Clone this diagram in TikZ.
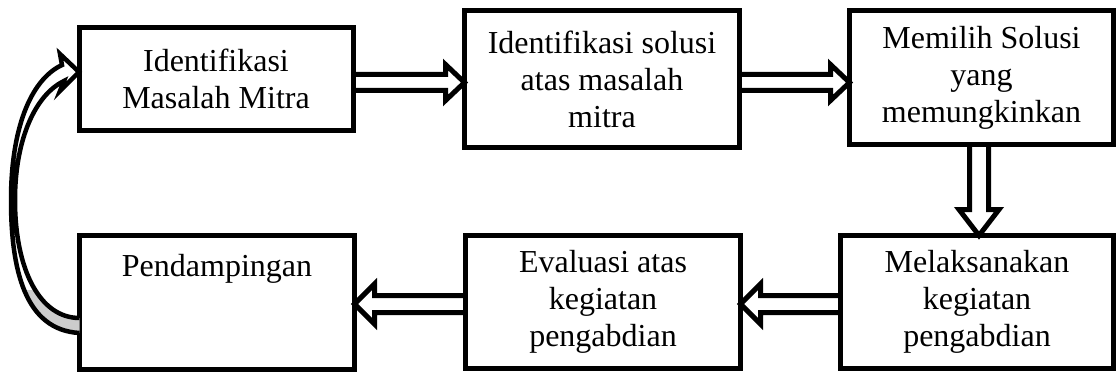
\documentclass[tikz,border=0pt]{standalone}
\usepackage{fontspec}
\setmainfont{Liberation Serif}
\usetikzlibrary{calc}
\begin{document}
\begin{tikzpicture}[x=1pt,y=-1pt,
  box/.style={draw, line width=5pt, inner sep=0pt, outer sep=0pt, align=center,
    font=\fontsize{32}{37}\selectfont},
  barrow/.style={draw, line width=5pt, line join=miter},
  curl/.style={draw, line width=4.5pt, line join=miter}]
\useasboundingbox (0,0) rectangle (1118,374);
% boxes
\node[box, minimum width=274pt, minimum height=103pt] (b1) at (216,79) {Identifikasi\\Masalah Mitra};
\node[box, minimum width=275pt, minimum height=137pt] (b2) at (602,79) {Identifikasi solusi\\atas masalah\\mitra};
\node[box, minimum width=264pt, minimum height=134pt] (b3) at (981.5,77.5) {Memilih Solusi\\yang\\memungkinkan};
\node[box, minimum width=275pt, minimum height=134pt,
  label={[anchor=north, inner sep=0pt, yshift=-18.5pt, font=\fontsize{32}{37}\selectfont]north:Pendampingan}] (b4) at (217,302.5) {};
\node[box, minimum width=275pt, minimum height=133pt] (b5) at (603,302) {Evaluasi atas\\kegiatan\\pengabdian};
\node[box, minimum width=273pt, minimum height=133pt] (b6) at (977,302) {Melaksanakan\\kegiatan\\pengabdian};
% block arrows
\coordinate (s1) at ($(b1.east)+(0,3.5)$);
\coordinate (e1) at (b2.west |- s1);
\draw[barrow] ($(s1)+(0,-8)$) -- ($(e1)+(-19,-8)$) -- ($(e1)+(-19,-18)$) -- (e1)
  -- ($(e1)+(-19,18)$) -- ($(e1)+(-19,8)$) -- ($(s1)+(0,8)$);
\coordinate (s2) at ($(b2.east)+(0,3.5)$);
\coordinate (e2) at (b3.west |- s2);
\draw[barrow] ($(s2)+(0,-8)$) -- ($(e2)+(-19,-8)$) -- ($(e2)+(-19,-18)$) -- (e2)
  -- ($(e2)+(-19,18)$) -- ($(e2)+(-19,8)$) -- ($(s2)+(0,8)$);
\coordinate (s3) at ($(b3.south)+(-2.5,0)$);
\coordinate (e3) at (s3 |- b6.north);
\draw[barrow] ($(s3)+(-9.5,0)$) -- ($(e3)+(-9.5,-26)$) -- ($(e3)+(-20,-26)$) -- (e3)
  -- ($(e3)+(20,-26)$) -- ($(e3)+(9.5,-26)$) -- ($(s3)+(9.5,0)$);
\coordinate (s4) at ($(b6.west)+(0,2)$);
\coordinate (e4) at (b5.east |- s4);
\draw[barrow] ($(s4)+(0,-8.5)$) -- ($(e4)+(20,-8.5)$) -- ($(e4)+(20,-20)$) -- (e4)
  -- ($(e4)+(20,20)$) -- ($(e4)+(20,8.5)$) -- ($(s4)+(0,8.5)$);
\coordinate (s5) at ($(b5.west)+(0,2)$);
\coordinate (e5) at (b4.east |- s5);
\draw[barrow] ($(s5)+(0,-8.5)$) -- ($(e5)+(20,-8.5)$) -- ($(e5)+(20,-20)$) -- (e5)
  -- ($(e5)+(20,20)$) -- ($(e5)+(20,8.5)$) -- ($(s5)+(0,8.5)$);
% curved arrow back to start
\coordinate (ct) at ($(b1.west)+(0,-7)$);
\coordinate (co) at ($(b4.west)+(0,30.5)$);
\coordinate (ci) at ($(b4.west)+(0,15.5)$);
\begin{scope}
\clip (0,290) rectangle (90,374);
\fill[gray!40] (co) .. controls (25,330) and (11,270) .. (11,200) -- (15,200)
  .. controls (15,270) and (40,318) .. (ci) -- cycle;
\end{scope}
\draw[curl] (co) .. controls (25,330) and (11,270) .. (11,200)
  .. controls (11,130) and (30,80) .. ($(ct)+(-17,-7)$) -- ($(ct)+(-19,-18)$) -- (ct)
  -- ($(ct)+(-19,19)$) -- ($(ct)+(-15,9)$)
  .. controls (35,95) and (15,140) .. (15,200)
  .. controls (15,270) and (40,318) .. (ci);
\end{tikzpicture}
\end{document}
